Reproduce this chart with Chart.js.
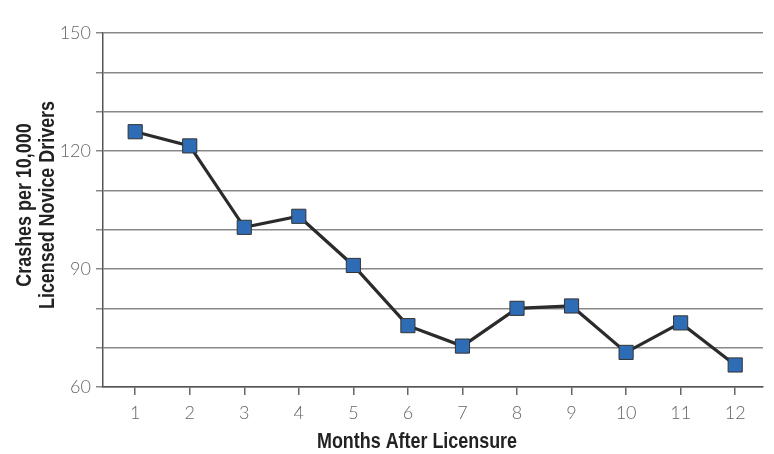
<!DOCTYPE html>
<html><head><meta charset="utf-8">
<script src="https://cdn.jsdelivr.net/npm/chart.js@4/dist/chart.umd.min.js"></script>
<style>html,body{margin:0;padding:0;background:#fff}canvas{display:block}</style>
</head><body>
<canvas id="c" width="774" height="454"></canvas>
<script>
const months = [1,2,3,4,5,6,7,8,9,10,11,12];
const crashes = [124.9,121.3,100.6,103.4,90.9,75.6,70.4,80.0,80.6,68.8,76.3,65.6];
const yTickLabels = [60,90,120,150];
const xTitle = 'Months After Licensure';
const yTitle = ['Crashes per 10,000','Licensed Novice Drivers'];

const titleFont = 'bold 22px "Liberation Sans", Arial, sans-serif';
const titles = {
  id:'titles',
  afterDraw(chart){
    const ctx = chart.ctx;
    ctx.save();
    ctx.fillStyle = '#222';
    ctx.font = titleFont;
    ctx.textAlign = 'center';
    ctx.textBaseline = 'alphabetic';
    const sx = 200 / ctx.measureText(xTitle).width;
    ctx.save();
    ctx.translate(417, 448);
    ctx.scale(sx, 1);
    ctx.fillText(xTitle, 0, 0);
    ctx.restore();
    ctx.save();
    ctx.translate(31, 205);
    ctx.rotate(-Math.PI/2);
    ctx.scale(sx, 1);
    ctx.fillText(yTitle[0], 0, 0);
    ctx.fillText(yTitle[1], 0, 23);
    ctx.restore();
    ctx.restore();
  }
};

const tickFont = {family:'Lato, "Open Sans", sans-serif', size:18, weight:'300'};

new Chart(document.getElementById('c'), {
  type:'line',
  data:{ datasets:[{
    data: months.map((m,i)=>({x:m,y:crashes[i]})),
    borderColor:'#2b2b2b', borderWidth:3.2,
    pointStyle:'rect', pointRadius:10, pointHoverRadius:10,
    pointBackgroundColor:'#2f6cb6', pointBorderColor:'#333', pointBorderWidth:1,
    tension:0
  }]},
  options:{
    responsive:false, animation:false, devicePixelRatio:1,
    layout:{padding:{top:33,right:0,left:0,bottom:0}},
    plugins:{legend:{display:false}, tooltip:{enabled:false}},
    scales:{
      x:{ type:'linear', min:0.41, max:12.51,
        afterBuildTicks(ax){ ax.ticks = months.map(v=>({value:v})); },
        afterFit(ax){ ax.height = 67; },
        grid:{drawOnChartArea:false, drawTicks:true, tickLength:8, color:'#666', lineWidth:1.5},
        border:{color:'#555', width:1.5},
        ticks:{color:'#666', font:tickFont, padding:7, maxRotation:0}
      },
      y:{ min:60, max:150,
        afterBuildTicks(ax){ const t=[]; for(let v=60; v<=150; v+=10) t.push({value:v}); ax.ticks=t; },
        afterFit(ax){ ax.width = 103; },
        grid:{color:'#888', lineWidth:1.5, tickLength:7},
        border:{color:'#555', width:1.5},
        ticks:{color:'#666', font:tickFont, padding:5,
          callback:(v)=> yTickLabels.includes(v) ? String(v) : ''}
      }
    }
  },
  plugins:[titles]
});
</script>
</body></html>
